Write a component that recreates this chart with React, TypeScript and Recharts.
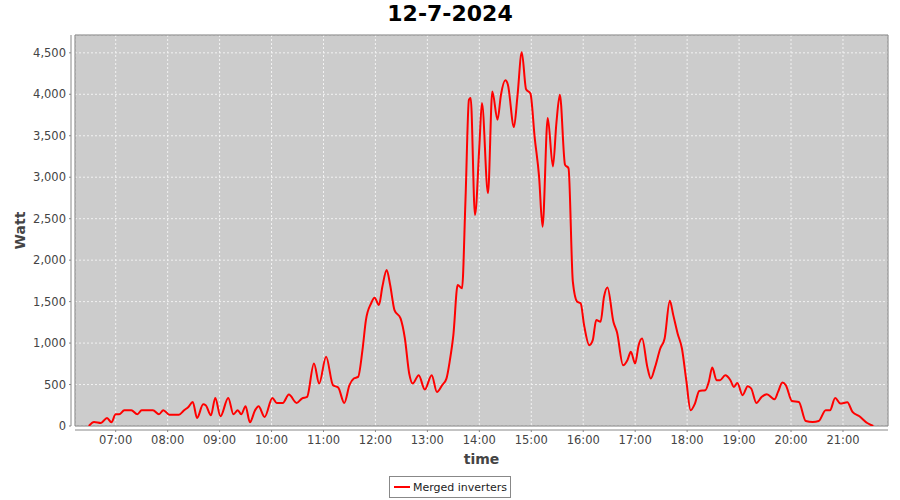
import { CartesianGrid, Legend, Line, LineChart, ReferenceArea, XAxis, YAxis } from 'recharts';

const chartTitle = '12-7-2024';
const seriesName = 'Merged inverters';

// minutes since midnight
const times = [
  389, 395, 403, 410, 415, 420, 424, 430, 438, 445, 450, 463, 470, 475, 482, 493, 499, 504, 509, 514,
  521, 524, 530, 535, 541, 550, 556, 561, 565, 570, 575, 581, 585, 592, 601, 606, 613, 620, 629, 635,
  641, 649, 655, 663, 671, 677, 684, 690, 695, 700, 705, 709, 715, 719, 724, 728, 733, 737, 742, 749,
  754, 759, 763, 770, 777, 785, 791, 797, 802, 806, 810, 815, 820, 824, 828, 830, 835, 840, 843, 850,
  855, 861, 865, 870, 873, 880, 884, 889, 894, 899, 904, 909, 913, 919, 925, 929, 933, 939, 943, 948,
  953, 957, 961, 967, 971, 975, 980, 984, 988, 995, 999, 1006, 1011, 1015, 1020, 1024, 1028, 1034, 1038, 1043,
  1049, 1054, 1060, 1064, 1069, 1074, 1079, 1084, 1089, 1094, 1101, 1105, 1109, 1114, 1118, 1124, 1130, 1134, 1138, 1144,
  1150, 1154, 1160, 1166, 1172, 1181, 1185, 1190, 1194, 1201, 1209, 1217, 1225, 1232, 1240, 1245, 1251, 1257, 1265, 1271,
  1279, 1288, 1295,
];

const watts = [
  0, 48, 36, 97, 45, 141, 141, 190, 190, 141, 190, 190, 141, 190, 137, 137, 190, 230, 290, 97,
  262, 250, 129, 338, 117, 338, 141, 190, 141, 238, 45, 190, 238, 109, 338, 278, 278, 379, 278, 331,
  350, 754, 512, 834, 492, 464, 278, 492, 572, 592, 914, 1277, 1479, 1546, 1458, 1679, 1881, 1700, 1398, 1297,
  1056, 633, 512, 612, 440, 612, 411, 492, 572, 794, 1096, 1700, 1660, 2727, 3934, 3955, 2545, 3370, 3895, 2807,
  4035, 3693, 3995, 4168, 4116, 3605, 3975, 4506, 4060, 4010, 3472, 3008, 2404, 3713, 3129, 3653, 3995, 3149, 3109, 1740,
  1498, 1479, 1216, 975, 1035, 1277, 1256, 1558, 1670, 1250, 1130, 733, 794, 894, 754, 975, 1056, 713, 572, 713,
  935, 1056, 1510, 1337, 1116, 935, 552, 190, 270, 423, 431, 532, 705, 552, 552, 612, 552, 471, 519, 371,
  480, 452, 278, 350, 383, 322, 411, 524, 492, 302, 290, 60, 48, 60, 190, 190, 338, 270, 285, 169,
  117, 36, 0,
];

const hourTicks = [420, 480, 540, 600, 660, 720, 780, 840, 900, 960, 1020, 1080, 1140, 1200, 1260];
const wattTicks = [0, 500, 1000, 1500, 2000, 2500, 3000, 3500, 4000, 4500];

const timeDomain = [373, 1312];
const wattDomain = [0, 4715];

const chartData = times.map((t, i) => ({ time: t, watt: watts[i] }));

const font = 'DejaVu Sans';

const pad = (n: number) => String(n).padStart(2, '0');
const formatHour = (m: number) => `${pad(Math.floor(m / 60))}:${pad(m % 60)}`;
const formatWatt = (v: number) => v.toLocaleString('en-US');

const LegendBox = () => (
  <div style={{ display: 'flex', justifyContent: 'center', paddingLeft: 12, paddingTop: 4 }}>
    <div
      style={{
        display: 'flex',
        alignItems: 'center',
        border: '1px solid #888',
        height: 20,
        padding: '0 3px',
        background: '#fff',
        fontFamily: font,
        fontSize: 11,
        color: '#222',
      }}
    >
      <svg width={18} height={6} style={{ marginRight: 2 }}>
        <line x1={1} y1={3} x2={17} y2={3} stroke="#ff0000" strokeWidth={2} />
      </svg>
      {seriesName}
    </div>
  </div>
);

const App = () => {
  return (
    <div style={{ position: 'absolute', top: 0, left: 0, width: 900, height: 500, background: '#fff' }}>
      <div
        style={{
          position: 'absolute',
          top: 0,
          left: 0,
          width: 900,
          textAlign: 'center',
          fontFamily: font,
          fontWeight: 'bold',
          fontSize: 22,
          lineHeight: '28px',
          color: '#000',
        }}
      >
        {chartTitle}
      </div>
      <LineChart width={900} height={500} data={chartData} margin={{ top: 35, right: 12, bottom: 0, left: 0 }}>
        <CartesianGrid fill="#cccccc" stroke="#f2f2f2" strokeDasharray="2 2" />
        <ReferenceArea
          x1={timeDomain[0]}
          x2={timeDomain[1]}
          y1={wattDomain[0]}
          y2={wattDomain[1]}
          fill="none"
          stroke="#808080"
          strokeOpacity={1}
        />
        <XAxis
          type="number"
          dataKey="time"
          domain={timeDomain}
          ticks={hourTicks}
          tickFormatter={formatHour}
          allowDataOverflow
          height={46}
          tickSize={2}
          tickMargin={8}
          axisLine={{ stroke: '#888', transform: 'translate(0,4)' }}
          tickLine={{ stroke: '#888', transform: 'translate(0,4)' }}
          tick={{ fill: '#444', fontSize: 11.5, fontFamily: font }}
          label={({ viewBox }: any) => (
            <text
              x={viewBox.x + viewBox.width / 2}
              y={viewBox.y + 38}
              textAnchor="middle"
              fill="#444"
              fontFamily={font}
              fontSize={14}
              fontWeight="bold"
            >
              time
            </text>
          )}
        />
        <YAxis
          type="number"
          domain={wattDomain}
          ticks={wattTicks}
          tickFormatter={formatWatt}
          allowDataOverflow
          width={75}
          tickSize={2}
          tickMargin={7}
          axisLine={{ stroke: '#888', transform: 'translate(-4,0)' }}
          tickLine={{ stroke: '#888', transform: 'translate(-4,0)' }}
          tick={{ fill: '#444', fontSize: 11.5, fontFamily: font }}
          label={({ viewBox }: any) => (
            <text
              x={25}
              y={viewBox.y + viewBox.height / 2}
              textAnchor="middle"
              transform={`rotate(-90, 25, ${viewBox.y + viewBox.height / 2})`}
              fill="#444"
              fontFamily={font}
              fontSize={14}
              fontWeight="bold"
            >
              Watt
            </text>
          )}
        />
        <Legend verticalAlign="bottom" height={28} content={<LegendBox />} />
        <Line
          type="monotone"
          dataKey="watt"
          name={seriesName}
          stroke="#ff0000"
          strokeWidth={2}
          dot={false}
          isAnimationActive={false}
        />
      </LineChart>
    </div>
  );
};

export default App;
